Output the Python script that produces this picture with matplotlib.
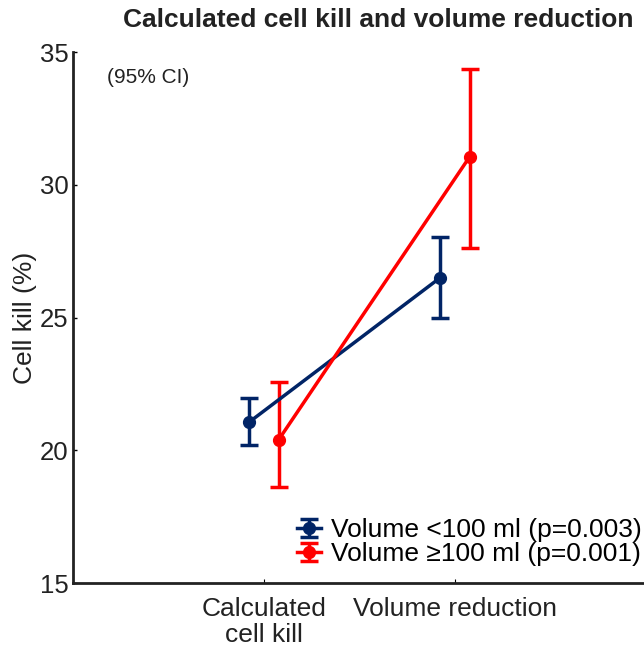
#!/usr/bin/env python3

import matplotlib
matplotlib.use('Agg')
import matplotlib.pyplot as plt
from matplotlib.legend_handler import HandlerErrorbar
from matplotlib.container import ErrorbarContainer
import numpy as np

# data
categories = ['Calculated\ncell kill', 'Volume reduction']
small_label = 'Volume <100 ml (p=0.003)'
small_mean = [21.06, 26.5]
small_low = [20.2, 24.98]
small_high = [21.97, 28.03]
large_label = 'Volume \u2265100 ml (p=0.001)'
large_mean = [20.39, 31.05]
large_low = [18.6, 27.6]
large_high = [22.57, 34.36]

plt.rcParams['font.family'] = ['Liberation Sans', 'DejaVu Sans']

fig = plt.figure(figsize=(6.44, 6.5), dpi=100)
ax = fig.add_axes([0.113, 0.103, 0.89, 0.817])

x = np.arange(1, len(categories) + 1)
off = 0.077

series = [
    (small_mean, small_low, small_high, '#012466', small_label, -off),
    (large_mean, large_low, large_high, '#ff0000', large_label, off),
]
for mean, low, high, col, lab, dx in series:
    mean = np.array(mean)
    err = [mean - np.array(low), np.array(high) - mean]
    ax.errorbar(x + dx, mean, yerr=err, color=col, lw=2.5, elinewidth=2.5,
                capsize=6.8, capthick=2.5, marker='o', markersize=8.5, label=lab)

ax.set_xlim(0, 3)
ax.set_ylim(15, 35)
ax.set_yticks([15, 20, 25, 30, 35])
ax.set_xticks(x)
ax.set_xticklabels(categories, fontsize=19, linespacing=1.1, color='#222222')
ax.tick_params(axis='y', labelsize=18.5, direction='in', length=3, width=1,
               pad=3, labelcolor='#222222')
ax.tick_params(axis='x', direction='in', length=3, width=0.8, pad=10)
for side in ['top', 'right']:
    ax.spines[side].set_visible(False)
for side in ['left', 'bottom']:
    ax.spines[side].set_linewidth(2)
    ax.spines[side].set_color('#222222')

ax.set_ylabel('Cell kill (%)', fontsize=19, color='#222222')
ax.yaxis.set_label_coords(-0.063, 0.5)
ax.text(0.059, 0.97, '(95% CI)', transform=ax.transAxes, fontsize=15,
        color='#222222', va='top')

fig.text(0.587, 0.969, 'Calculated cell kill and volume reduction',
         fontsize=19, fontweight='bold', ha='center', va='center', color='#222222')

ax.legend(loc='lower right', bbox_to_anchor=(0.997, 0.129),
          bbox_transform=fig.transFigure, frameon=False,
          fontsize=19, handlelength=0.9, handletextpad=0.4, labelspacing=0.0,
          borderpad=0, borderaxespad=0,
          handler_map={ErrorbarContainer: HandlerErrorbar(xerr_size=0.3, yerr_size=0.34)})

plt.savefig('out.png', dpi=100)
